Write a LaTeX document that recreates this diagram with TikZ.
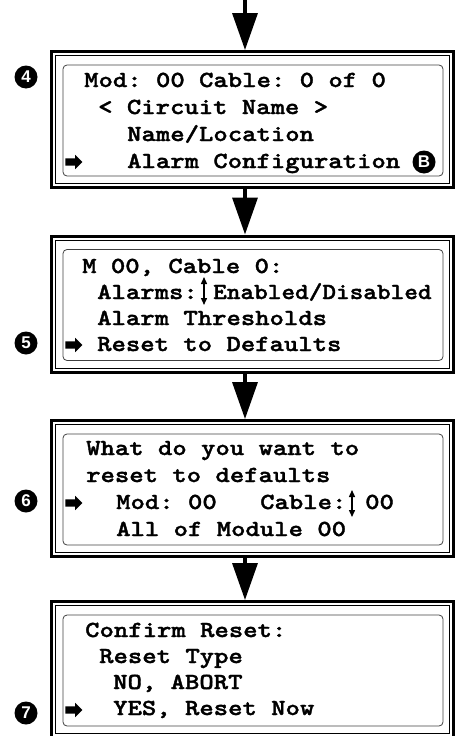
\documentclass[tikz,border=0pt]{standalone}
\usepackage{fontspec}
\setmonofont{lmmonolt10-regular.otf}[BoldFont=lmmonolt10-bold.otf,
    BoldFeatures={FakeBold=1.6},FakeStretch=1.19]
\setsansfont{Liberation Sans}
\usetikzlibrary{arrows.meta,shapes.arrows}
\tikzstyle{screen} = [draw=black, line width=3pt, inner sep=0,
    minimum width=402pt, minimum height=136pt]
\tikzstyle{inframe} = [draw=black, line width=0.8pt, inner sep=0,
    minimum width=394pt, minimum height=128pt]
\tikzstyle{lcd} = [draw=black!75, line width=0.8pt, rounded corners=4pt,
    inner sep=0, minimum width=380pt, minimum height=111pt]
\tikzstyle{lcdtext} = [anchor=base west, inner sep=0,
    font=\ttfamily\bfseries\fontsize{23}{28}\selectfont]
\tikzstyle{stepnum} = [circle, fill=black, text=white, inner sep=0,
    minimum size=23pt, font=\sffamily\bfseries\fontsize{17}{17}\selectfont]
\tikzstyle{flow} = [line width=3.5pt, -{Triangle[width=25pt,length=37pt]}]
\tikzstyle{selarrow} = [single arrow, fill=black, inner sep=0,
    text height=3.5pt, text depth=3.5pt, text width=0pt,
    minimum height=17pt, single arrow head extend=3.5pt]
\tikzstyle{updown} = [line width=1.4pt,
    {Triangle[width=6pt,length=7pt]}-{Triangle[width=6pt,length=7pt]}]

\begin{document}
\begin{tikzpicture}[x=1pt,y=-1pt]
\useasboundingbox (0,0) rectangle (455,736);

\node[screen] (scr4) at (252.5,119.5) {};
\node[inframe] (frm4) at (scr4.center) {};
\node[lcd] (lcd4) at (253,120.5) {};
\node[screen] (scr5) at (252.5,304) {};
\node[inframe] (frm5) at (scr5.center) {};
\node[lcd] (lcd5) at (253,305) {};
\node[screen] (scr6) at (252.5,488.5) {};
\node[inframe] (frm6) at (scr6.center) {};
\node[lcd] (lcd6) at (253,489.5) {};
\node[screen] (scr7) at (252.5,669.5) {};
\node[inframe] (frm7) at (scr7.center) {};
\node[lcd] (lcd7) at (253,670.5) {};

\coordinate (top) at (245,0);
\draw[flow] (top) -- (top |- scr4.north);
\draw[flow] (scr4.south -| top) -- (scr5.north -| top);
\draw[flow] (scr5.south -| top) -- (scr6.north -| top);
\draw[flow] (scr6.south -| top) -- (scr7.north -| top);

\node[stepnum] (num4) at (26,77) {4};
\node[stepnum] (num5) at (26,343) {5};
\node[stepnum] (num6) at (26,501) {6};
\node[stepnum] (num7) at (26,713) {7};

\node[lcdtext] (t41) at (84,87) {Mod: 00 Cable: 0 of 0};
\node[lcdtext] (t42) at (98,114) {< Circuit Name >};
\node[lcdtext] (t43) at (127,141) {Name/Location};
\node[lcdtext] (t44) at (127,168) {Alarm Configuration};
\node[stepnum] (keyb) at (424,162) {B};
\node[selarrow] (sel4) at (72,162) {};

\node[lcdtext] (t51) at (82,273) {M 00, Cable 0:};
\node[lcdtext] (t52) at (97,299) {Alarms:};
\node[lcdtext] (t52b) at (213,299) {\scalebox{0.95}[1]{Enabled/Disabled}};
\node[lcdtext] (t53) at (97,325) {Alarm Thresholds};
\node[lcdtext] (t54) at (97,351) {Reset to Defaults};
\node[selarrow] (sel5) at (72,345) {};
\draw[updown] (204,277) -- (204,305);

\node[lcdtext] (t61) at (86,455) {What do you want to};
\node[lcdtext] (t62) at (86,482) {reset to defaults};
\node[lcdtext] (t63) at (116,509) {Mod: 00};
\node[lcdtext] (t63b) at (260,509) {Cable:};
\node[lcdtext] (t63c) at (365,509) {00};
\node[lcdtext] (t64) at (116,536) {All of Module 00};
\node[selarrow] (sel6) at (72,503) {};
\draw[updown] (352,490) -- (352,517);

\node[lcdtext] (t71) at (85,637) {Confirm Reset:};
\node[lcdtext] (t72) at (99,663) {Reset Type};
\node[lcdtext] (t73) at (113,689) {NO, ABORT};
\node[lcdtext] (t74) at (113,715) {YES, Reset Now};
\node[selarrow] (sel7) at (72,710) {};
\end{tikzpicture}
\end{document}
